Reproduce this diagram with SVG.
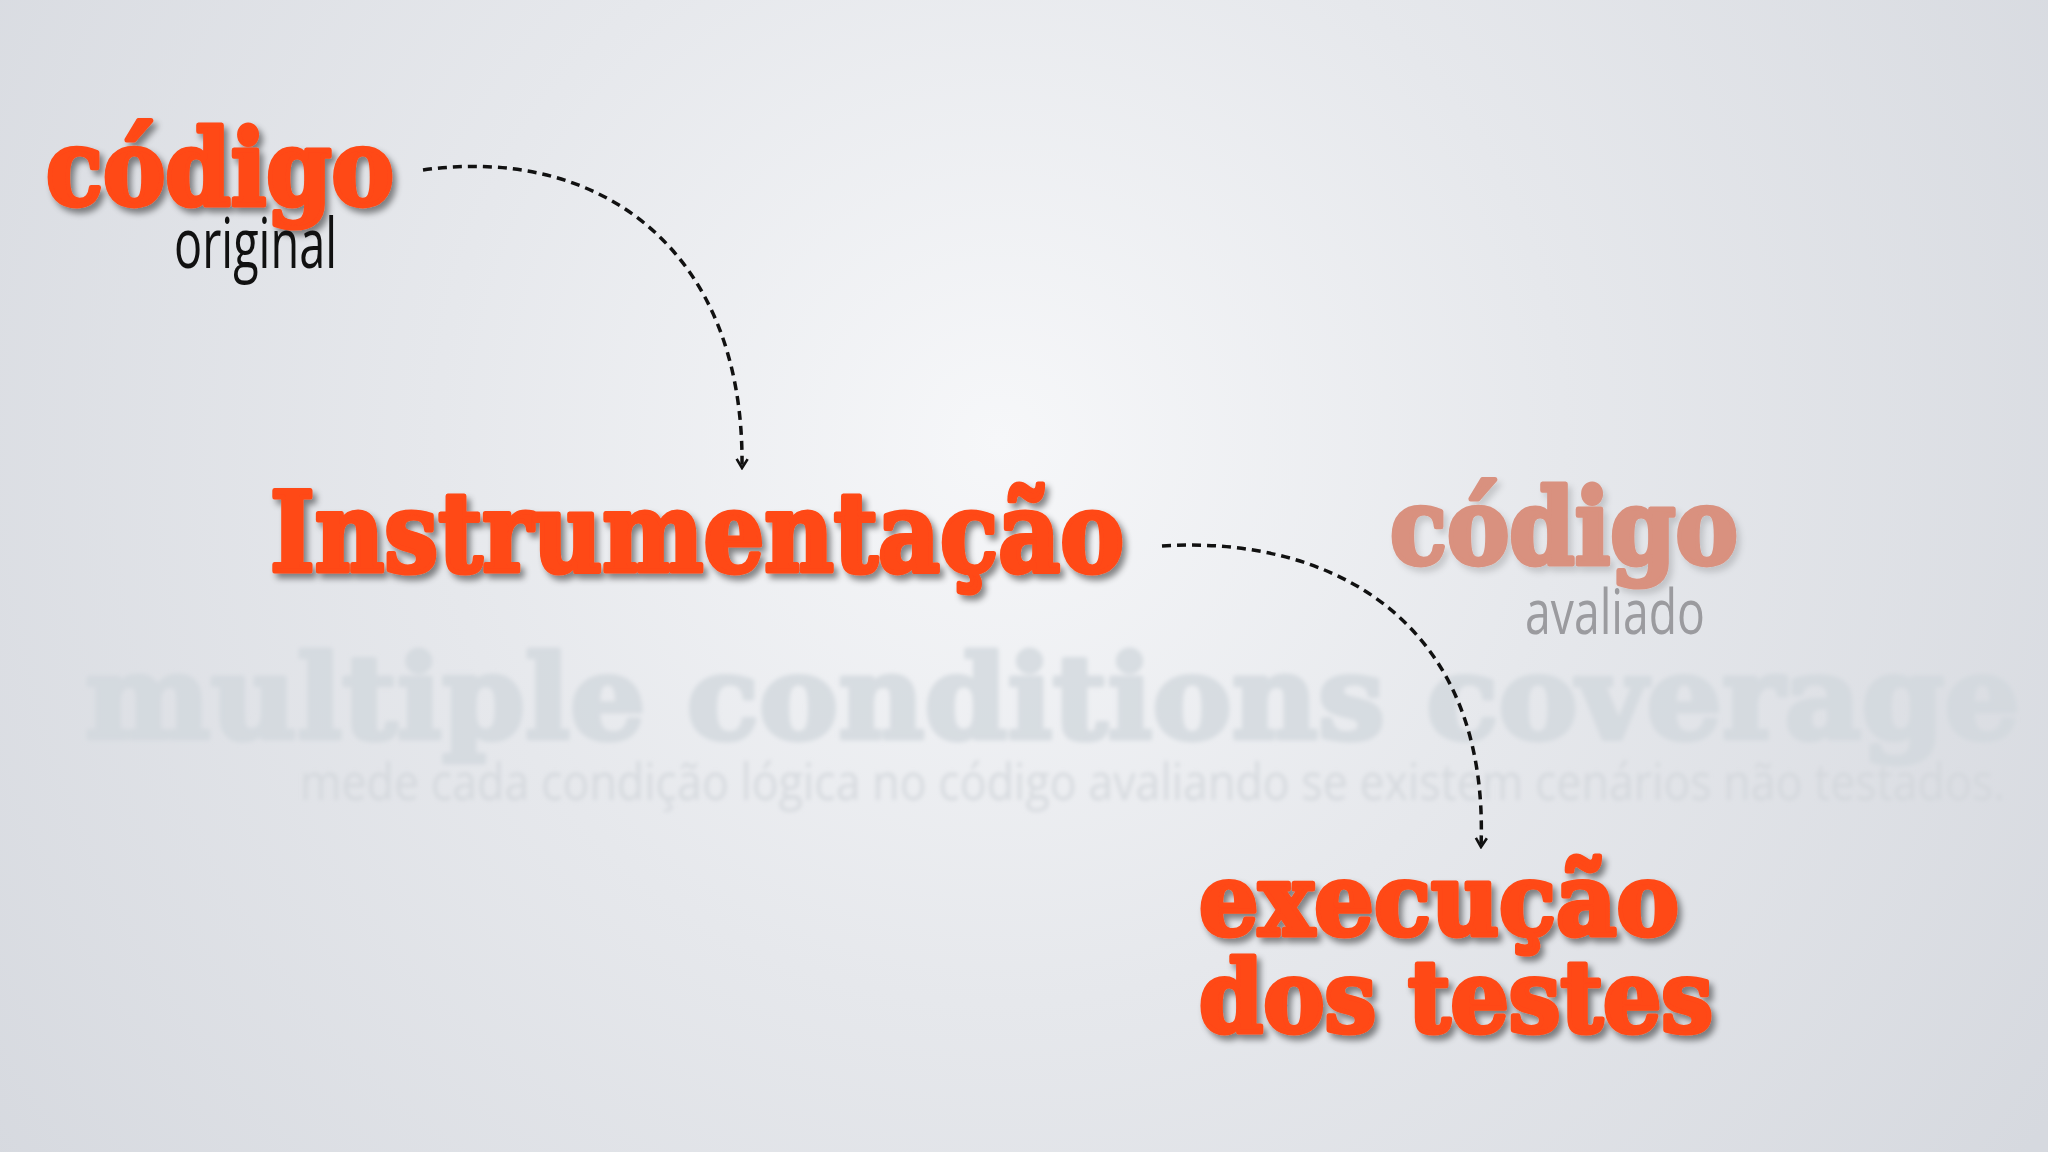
<svg xmlns="http://www.w3.org/2000/svg" width="2048" height="1152" viewBox="0 0 2048 1152">
<defs>
<radialGradient id="bg" cx="1000" cy="440" r="1250" gradientUnits="userSpaceOnUse">
<stop offset="0" stop-color="#f6f7f9"/>
<stop offset="0.45" stop-color="#e6e8ec"/>
<stop offset="1" stop-color="#d6d9df"/>
</radialGradient>
<filter id="sh" x="-10%" y="-20%" width="120%" height="150%">
<feDropShadow dx="4" dy="5" stdDeviation="3" flood-color="#000" flood-opacity="0.45"/>
</filter>
<filter id="shf" x="-10%" y="-20%" width="120%" height="150%">
<feDropShadow dx="4" dy="5" stdDeviation="3" flood-color="#000" flood-opacity="0.15"/>
</filter>
<filter id="blur" x="-5%" y="-20%" width="110%" height="140%">
<feGaussianBlur stdDeviation="2"/>
</filter>
<marker id="arr" viewBox="0 0 14 14" refX="12" refY="7" markerWidth="14" markerHeight="14" markerUnits="userSpaceOnUse" orient="auto">
<path d="M3,1.5 L12,7 L3,12.5" fill="none" stroke="#111" stroke-width="2.6"/>
</marker>
</defs>
<style>
.big{font-family:"DejaVu Serif","Liberation Serif",serif;font-weight:bold;fill:#ff4814;stroke:#ff4814;stroke-width:5;stroke-linejoin:round}
.sub{font-family:"Open Sans","Liberation Sans",sans-serif}
.conn{fill:none;stroke:#111;stroke-width:3.5;stroke-dasharray:9 6}
</style>
<rect width="2048" height="1152" fill="url(#bg)"/>
<g id="background-title" filter="url(#blur)">
<text x="85" y="738" font-family="DejaVu Serif, serif" font-weight="bold" font-size="116" fill="#d3d9de" stroke="#d3d9de" stroke-width="5" stroke-linejoin="round" opacity="0.8" textLength="1935" lengthAdjust="spacingAndGlyphs">multiple conditions coverage</text>
<text x="300" y="800" class="sub" font-size="52" fill="#d2d6db" opacity="0.8" textLength="1705" lengthAdjust="spacingAndGlyphs">mede cada condição lógica no código avaliando se existem cenários não testados.</text>
</g>
<g id="connectors">
<path class="conn" d="M423,170 C600,145 745,250 742,468" marker-end="url(#arr)"/>
<path class="conn" d="M1162,546 C1330,535 1490,620 1481,847" marker-end="url(#arr)"/>
</g>
<g id="codigo-original">
<text x="46" y="205" class="big" font-size="104" filter="url(#sh)" textLength="348" lengthAdjust="spacingAndGlyphs">código</text>
<text x="174" y="268" class="sub" font-size="70" fill="#111" textLength="163" lengthAdjust="spacingAndGlyphs">original</text>
</g>
<g id="instrumentacao">
<text x="270" y="571" class="big" font-size="110" filter="url(#sh)" textLength="854" lengthAdjust="spacingAndGlyphs">Instrumentação</text>
</g>
<g id="codigo-avaliado">
<text x="1390" y="564" class="big" font-size="104" style="fill:#d9917f;stroke:#d9917f" filter="url(#shf)" textLength="348" lengthAdjust="spacingAndGlyphs">código</text>
<text x="1525" y="634" class="sub" font-size="62" fill="#9b9b9f" textLength="180" lengthAdjust="spacingAndGlyphs">avaliado</text>
</g>
<g id="execucao-dos-testes">
<text x="1199" y="935" class="big" font-size="100" filter="url(#sh)" textLength="480" lengthAdjust="spacingAndGlyphs">execução</text>
<text x="1199" y="1032" class="big" font-size="100" filter="url(#sh)" textLength="514" lengthAdjust="spacingAndGlyphs">dos testes</text>
</g>
</svg>
